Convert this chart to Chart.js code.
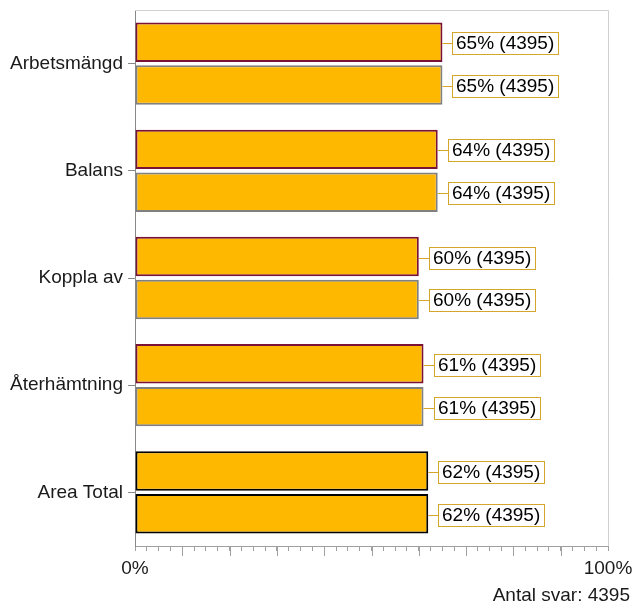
<!DOCTYPE html>
<html>
<head>
<meta charset="utf-8">
<script src="https://cdn.jsdelivr.net/npm/chart.js@4"></script>
<style>
  html, body { margin: 0; padding: 0; background: #fff; }
  #wrap { width: 640px; height: 615px; }
</style>
</head>
<body>
<div id="wrap"><canvas id="barChart"></canvas></div>
<script>
// ── data ─────────────────────────────────────────────
const categories = ['Arbetsmängd', 'Balans', 'Koppla av', 'Återhämtning', 'Area Total'];
const seriesA = [65, 64, 60, 61, 62];
const seriesB = [65, 64, 60, 61, 62];
const countsA = [4395, 4395, 4395, 4395, 4395];
const countsB = [4395, 4395, 4395, 4395, 4395];
const xTickLabels = ['0%', '100%'];
const footnote = 'Antal svar: 4395';

const FONT = "'Liberation Sans', Arial, sans-serif";
const FILL = '#ffb800';
const bordersA = ['#7a1238', '#7a1238', '#7a1238', '#7a1238', '#000000'];
const bordersB = ['#808080', '#808080', '#808080', '#808080', '#000000'];

// value labels in small boxes + frame + long ticks + footnote
const decoPlugin = {
    id: 'deco',
    afterDraw(chart) {
        const ctx = chart.ctx;
        const area = chart.chartArea;
        const xs = chart.scales.x;

        ctx.save();
        // frame top/right
        ctx.strokeStyle = '#d0d0d0';
        ctx.lineWidth = 1;
        ctx.beginPath();
        ctx.moveTo(area.left, area.top + 0.5);
        ctx.lineTo(area.right + 0.5, area.top + 0.5);
        ctx.lineTo(area.right + 0.5, area.bottom);
        ctx.stroke();

        // major ticks every 10%
        ctx.strokeStyle = '#a0a0a0';
        ctx.beginPath();
        for (let v = 10; v <= 90; v += 10) {
            const px = Math.round(xs.getPixelForValue(v)) + 0.5;
            ctx.moveTo(px, area.bottom);
            ctx.lineTo(px, area.bottom + 10);
        }
        ctx.stroke();

        // data labels
        ctx.font = '19px ' + FONT;
        ctx.textBaseline = 'middle';
        const countsList = [countsA, countsB];
        chart.data.datasets.forEach((ds, di) => {
            chart.getDatasetMeta(di).data.forEach((bar, i) => {
                const txt = ds.data[i] + '% (' + countsList[di][i] + ')';
                const w = Math.round(ctx.measureText(txt).width) + 8;
                const h = 22;
                const x0 = Math.round(bar.x) + 10;
                const y0 = Math.round(bar.y - h / 2 + 1);
                ctx.strokeStyle = '#d4a72c';
                ctx.beginPath();
                ctx.moveTo(bar.x, y0 + h / 2 + 0.5);
                ctx.lineTo(x0, y0 + h / 2 + 0.5);
                ctx.stroke();
                ctx.fillStyle = '#fff';
                ctx.fillRect(x0, y0, w, h);
                ctx.strokeRect(x0 + 0.5, y0 + 0.5, w, h);
                ctx.fillStyle = '#000';
                ctx.textAlign = 'left';
                ctx.fillText(txt, x0 + 4, y0 + h / 2 + 1);
            });
        });

        // footnote
        ctx.font = '19px ' + FONT;
        ctx.fillStyle = '#1a1a1a';
        ctx.textAlign = 'right';
        ctx.fillText(footnote, chart.width - 10, 596);
        ctx.restore();
    }
};

new Chart(document.getElementById('barChart'), {
    type: 'bar',
    data: {
        labels: categories,
        datasets: [
            { data: seriesA, backgroundColor: FILL, borderColor: bordersA, borderWidth: 2, borderSkipped: false },
            { data: seriesB, backgroundColor: FILL, borderColor: bordersB, borderWidth: 2, borderSkipped: false }
        ]
    },
    options: {
        indexAxis: 'y',
        responsive: true, maintainAspectRatio: false,
        animation: false,
        layout: { padding: { top: 10, right: 32, bottom: 37, left: 0 } },
        datasets: { bar: { categoryPercentage: 0.8, barPercentage: 0.92 } },
        scales: {
            x: {
                min: 0, max: 100,
                afterFit: (s) => { s.height = 32; s.paddingLeft = 0; s.paddingRight = 0; },
                grid: { drawOnChartArea: false, tickLength: 5, tickColor: '#a0a0a0' },
                border: { color: '#a0a0a0' },
                ticks: {
                    stepSize: 2.5, autoSkip: false, maxRotation: 0, padding: 6,
                    color: '#1a1a1a', font: { family: FONT, size: 19 },
                    callback: (v) => v === 0 ? xTickLabels[0] : (v === 100 ? xTickLabels[1] : '')
                }
            },
            y: {
                afterFit: (s) => { s.width = 135; s.paddingTop = 0; s.paddingBottom = 0; },
                grid: { drawOnChartArea: false, offset: false, tickLength: 7, tickColor: '#888' },
                border: { color: '#888' },
                ticks: { padding: 5, color: '#1a1a1a', font: { family: FONT, size: 19 } }
            }
        },
        plugins: {
            legend: { display: false },
            tooltip: { enabled: false }
        }
    },
    plugins: [decoPlugin]
});
</script>
</body>
</html>
